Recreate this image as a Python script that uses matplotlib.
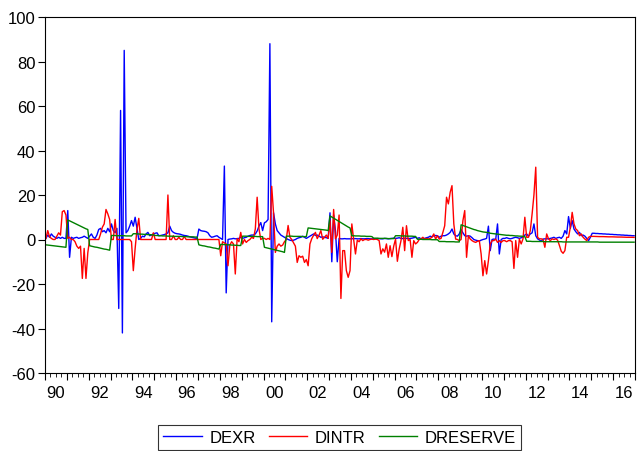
import numpy as np
import matplotlib
matplotlib.use("Agg")
import matplotlib.pyplot as plt

# monthly observations, 1990M01 - 2016M12 (one row per year)
start_year = 1990
end_year = 2016

dexr = [
    0.5, 2.0, 1.0, 2.5, 1.5, 1.0, 0.5, 1.0, 0.5, 1.0, 0.5, 0.5,
    13.0, -8.0, 1.0, 0.5, 0.8, 1.0, 0.5, 0.8, 1.0, 1.5, 1.0, 0.5,
    1.5, 2.5, 1.0, 0.5, 2.0, 4.5, 5.0, 3.5, 4.0, 3.0, 5.0, 3.5,
    7.0, 4.0, 3.0, 5.0, -31.0, 58.0, -42.0, 85.0, 3.0, 4.0, 6.0, 8.5,
    6.0, 10.0, 5.0, 0.0, 0.5, 1.5, 1.2, 2.5, 3.2, 1.7, 2.0, 2.5,
    2.8, 3.0, 1.7, 1.8, 2.0, 2.2, 2.5, 3.0, 6.0, 4.0, 3.2, 2.8,
    2.6, 2.5, 2.3, 2.0, 1.8, 1.7, 1.5, 1.2, 1.0, 0.8, 0.6, 0.5,
    4.7, 4.0, 3.8, 3.7, 3.5, 3.0, 1.7, 1.0, 1.2, 1.5, 1.7, 1.0,
    0.5, 0.0, 33.0, -24.0, 0.0, 0.2, 0.3, 0.5, 0.3, 0.4, 0.5, 1.0,
    0.5, 0.8, 1.0, 1.5, 1.8, 2.0, 2.0, 2.5, 3.8, 6.0, 7.6, 4.0,
    7.5, 8.0, 9.0, 88.0, -37.0, 12.0, 7.0, 4.0, 3.0, 2.0, 1.5, 1.0,
    0.5, 0.0, -0.3, -0.5, -0.3, 0.0, 0.5, 0.8, 1.0, 1.5, 1.0, 0.5,
    1.0, 1.5, 2.0, 2.5, 1.8, 2.0, 1.5, 1.0, 1.2, 1.0, 0.8, 0.5,
    12.0, -10.0, 11.0, 4.0, -10.0, 0.5, 0.3, 0.3, 0.4, 0.3, 0.3, 0.3,
    0.3, 0.4, 0.4, 0.3, 0.3, 0.4, 0.3, 0.3, 0.4, 0.4, 0.3, 0.3,
    0.3, 0.3, 0.4, 0.4, 0.3, 0.3, 0.5, 0.4, 0.3, 0.4, 0.5, 0.6,
    0.5, 0.6, 0.8, 0.5, 0.4, 0.6, 0.5, 0.4, 0.5, 0.6, 0.8, 1.0,
    0.5, 0.8, 0.3, 0.2, 0.5, 0.8, 1.0, 1.5, 1.2, 1.7, 1.8, 1.7,
    1.0, 1.5, 1.7, 1.7, 2.0, 2.5, 3.2, 4.7, 2.5, 1.7, 1.5, 2.5,
    4.5, 3.0, 1.7, 1.5, 1.7, 1.5, 0.8, 0.0, -0.3, -0.5, -0.7, -0.3,
    0.0, 0.2, 0.5, 6.0, -5.0, 0.0, 0.2, 0.0, 7.0, -6.5, 0.0, 0.5,
    0.5, 0.8, 0.5, 0.3, 0.5, 0.8, 1.0, 0.8, 0.5, 0.8, 1.0, 2.0,
    2.5, 1.5, 2.5, 3.0, 7.0, 1.7, 0.3, -0.2, -0.8, 0.2, 0.3, 0.3,
    0.3, 0.5, 0.7, 1.0, 0.5, 0.8, 1.0, 0.5, 1.5, 4.0, 2.5, 10.3,
    5.0, 8.5, 4.7, 3.5, 2.5, 3.2, 1.7, 2.0, 1.5, 0.5, -0.5, 1.0,
    2.8, 2.8, 2.7, 2.7, 2.6, 2.6, 2.5, 2.5, 2.4, 2.4, 2.3, 2.3,
    2.2, 2.2, 2.1, 2.1, 2.0, 2.0, 1.9, 1.9, 1.8, 1.8, 1.7, 1.7,
]

dintr = [
    0.5, 4.0, 1.2, 0.5, 0.0, 0.0, 1.5, 3.0, 2.0, 12.5, 13.0, 11.0,
    0.5, 1.0, 0.0, 0.0, -1.0, -3.0, -4.0, -3.0, -17.5, -4.0, -17.5, -6.0,
    0.0, 0.0, 0.0, 0.0, 0.0, 0.0, 2.5, 5.5, 7.0, 13.5, 11.5, 9.0,
    0.0, 0.0, 9.0, 0.0, 0.0, 0.0, 0.0, 0.0, 0.0, 0.0, 0.0, -1.0,
    -14.0, -4.0, 4.5, 9.5, 0.0, 0.0, 0.0, 0.0, 0.0, 0.0, 0.0, 3.0,
    0.0, 0.0, 0.0, 0.0, 0.0, 0.0, 0.0, 20.0, 0.0, 0.0, 1.7, 0.0,
    0.0, 1.0, 0.0, 0.0, 1.3, 0.0, 0.0, 0.0, 0.0, 0.0, 0.0, 0.0,
    0.0, 0.0, 0.0, 0.0, 0.0, 0.0, 0.0, 0.0, 0.0, 0.0, 0.0, 0.0,
    -7.3, -1.0, -1.5, -2.0, -11.8, -2.5, -1.0, -2.0, -15.5, 0.4, -1.0, 3.2,
    -2.0, 0.0, -1.3, -0.5, 0.0, 1.0, 0.5, 4.8, 19.0, 4.8, 0.0, 0.5,
    0.5, 0.0, 0.5, 0.0, 23.9, 12.0, -5.8, -3.0, -2.0, -3.0, -2.5, -1.0,
    0.0, 6.3, 1.0, 0.0, -1.5, -3.0, -10.3, -7.3, -8.0, -7.5, -10.3, -9.0,
    -11.8, -2.0, 0.4, 1.9, 3.2, 0.4, 2.0, 4.0, 0.1, 1.0, 2.0, 0.5,
    8.5, -5.8, 13.5, 0.3, 2.0, 11.0, -26.5, -5.0, -5.0, -14.0, -17.0, -14.0,
    7.0, 0.0, -6.5, -0.3, -1.0, 0.3, -0.5, 0.0, 0.0, -0.3, 0.0, 0.2,
    0.0, 0.2, 0.0, -0.5, -6.5, -4.2, -5.7, -2.0, -8.0, -2.8, -7.7, -3.0,
    0.2, -9.8, -4.3, -0.5, 5.5, -5.0, 6.2, -0.5, 0.0, -8.0, -0.5, -2.0,
    -1.3, 0.0, 0.3, 1.0, 0.2, 0.5, 0.2, 0.5, 1.0, 2.5, 0.2, 1.7,
    0.2, 0.5, 3.2, 6.2, 19.0, 16.0, 21.2, 24.2, 7.0, 0.2, 0.0, -0.5,
    0.0, 8.5, 13.0, -8.0, 1.7, 0.2, -0.5, -1.0, -1.3, -0.8, -0.5, -6.5,
    -16.3, -9.5, -15.5, -9.5, -2.0, -0.5, -0.5, 0.2, -1.3, -0.5, -1.3, -0.5,
    -0.5, -1.0, -0.5, -0.5, -1.0, -13.0, -0.5, -8.0, 0.2, -2.0, 0.3, 10.0,
    1.0, 1.0, 4.0, 11.5, 20.0, 32.5, 1.0, 0.3, 0.3, 0.0, -3.5, 2.5,
    0.3, -0.5, 0.3, 0.0, 0.3, -0.3, -2.7, -5.3, -6.2, -5.0, 1.0, 1.0,
    5.5, 12.2, 7.0, 4.7, 4.0, 1.7, 2.5, 1.0, 0.2, -0.5, 1.0, 1.4,
    1.4, 1.4, 1.35, 1.35, 1.3, 1.3, 1.3, 1.25, 1.25, 1.2, 1.2, 1.2,
    1.15, 1.15, 1.1, 1.1, 1.1, 1.05, 1.05, 1.0, 1.0, 1.0, 0.95, 0.95,
]

dreserve = [
    -2.4, -2.5, -2.6, -2.7, -2.8, -2.9, -3.0, -3.1, -3.2, -3.3, -3.4, -3.5,
    8.8, 8.4, 8.0, 7.6, 7.2, 6.8, 6.4, 6.0, 5.6, 5.2, 4.8, 4.5,
    -2.8, -3.0, -3.2, -3.4, -3.5, -3.7, -3.9, -4.1, -4.3, -4.4, -4.6, -4.8,
    1.8, 1.8, 1.8, 1.7, 1.7, 1.7, 1.7, 1.7, 1.6, 1.6, 1.6, 1.6,
    2.6, 2.6, 2.5, 2.5, 2.4, 2.4, 2.3, 2.3, 2.2, 2.2, 2.1, 2.1,
    1.8, 1.8, 1.7, 1.7, 1.6, 1.6, 1.6, 1.5, 1.5, 1.5, 1.4, 1.4,
    1.4, 1.4, 1.4, 1.3, 1.3, 1.3, 1.2, 1.2, 1.2, 1.2, 1.1, 1.1,
    -2.4, -2.6, -2.8, -2.9, -3.1, -3.3, -3.4, -3.6, -3.8, -3.9, -4.1, -4.3,
    -2.2, -2.2, -2.3, -2.3, -2.4, -2.4, -2.5, -2.5, -2.6, -2.6, -2.7, -2.7,
    1.5, 1.5, 1.5, 1.4, 1.4, 1.4, 1.4, 1.4, 1.3, 1.3, 1.3, 1.3,
    -3.5, -3.7, -3.9, -4.1, -4.3, -4.5, -4.7, -4.9, -5.1, -5.3, -5.5, -5.8,
    1.5, 1.5, 1.5, 1.5, 1.4, 1.4, 1.4, 1.4, 1.4, 1.3, 1.3, 1.3,
    5.2, 5.1, 5.0, 4.9, 4.8, 4.7, 4.6, 4.5, 4.4, 4.3, 4.2, 4.0,
    10.6, 10.1, 9.6, 9.1, 8.6, 8.1, 7.6, 7.1, 6.6, 6.1, 5.6, 5.2,
    1.7, 1.7, 1.6, 1.6, 1.6, 1.5, 1.5, 1.5, 1.4, 1.4, 1.4, 1.3,
    0.6, 0.6, 0.6, 0.5, 0.5, 0.5, 0.5, 0.5, 0.4, 0.4, 0.4, 0.4,
    1.7, 1.7, 1.7, 1.6, 1.6, 1.6, 1.5, 1.5, 1.5, 1.5, 1.4, 1.4,
    0.1, 0.1, 0.1, 0.0, 0.0, 0.0, 0.0, 0.0, -0.1, -0.1, -0.1, -0.1,
    -0.9, -0.9, -0.9, -0.9, -1.0, -1.0, -1.0, -1.0, -1.0, -1.1, -1.1, -1.1,
    6.6, 6.3, 6.0, 5.7, 5.4, 5.1, 4.8, 4.5, 4.3, 4.0, 3.8, 3.6,
    3.4, 3.3, 3.2, 3.1, 2.8, 2.7, 2.6, 2.5, 2.4, 2.3, 2.2, 2.1,
    2.0, 1.9, 1.9, 1.8, 1.8, 1.7, 1.6, 1.6, 1.5, 1.5, 1.4, 1.3,
    -0.8, -0.8, -0.8, -0.9, -0.9, -0.9, -0.9, -0.9, -0.9, -0.9, -1.0, -1.0,
    -1.0, -1.0, -1.0, -1.0, -1.0, -1.0, -1.0, -1.0, -1.1, -1.1, -1.1, -1.1,
    -1.1, -1.1, -1.1, -1.1, -1.1, -1.1, -1.1, -1.1, -1.1, -1.1, -1.1, -1.1,
    -1.1, -1.1, -1.1, -1.1, -1.2, -1.2, -1.2, -1.2, -1.2, -1.2, -1.2, -1.2,
    -1.2, -1.2, -1.2, -1.2, -1.2, -1.2, -1.2, -1.2, -1.2, -1.2, -1.2, -1.2,
]

series_names = ["DEXR", "DINTR", "DRESERVE"]
series_colors = ["#0000FF", "#FF0000", "#008000"]
y_ticks = [-60, -40, -20, 0, 20, 40, 60, 80, 100]

plt.rcParams["font.family"] = ["Liberation Sans", "DejaVu Sans"]

n = len(dexr)
t = start_year + (np.arange(n) + 0.5) / 12.0

fig = plt.figure(figsize=(6.37, 4.52), dpi=100)
ax = fig.add_axes([45 / 637, 78 / 452, 590 / 637, 356 / 452])

for vals, name, col in zip([dexr, dintr, dreserve], series_names,
                           series_colors):
    ax.plot(t, vals, color=col, lw=1.0, label=name)

ax.set_xlim(start_year, end_year + 1)
ax.set_ylim(-60, 100)
ax.set_yticks(y_ticks)
ax.set_yticklabels([str(v) for v in y_ticks], fontsize=12)
ax.tick_params(axis="y", direction="out", length=5, width=0.8, pad=2)

# year ticks (major) and quarter ticks (minor), labels centred on years
years = np.arange(start_year, end_year + 2)
ax.set_xticks(years)
ax.set_xticklabels([])
ax.set_xticks(np.arange(start_year, end_year + 1, 0.25), minor=True)
ax.tick_params(axis="x", which="major", direction="out", length=5,
               width=0.8)
ax.tick_params(axis="x", which="minor", direction="out", length=3,
               width=0.6)
for yr in range(start_year, end_year + 1, 2):
    ax.text(yr + 0.5, -0.035, f"{yr % 100:02d}", fontsize=12,
            ha="center", va="top", transform=ax.get_xaxis_transform())

for sp in ax.spines.values():
    sp.set_linewidth(0.8)

leg = fig.legend(loc="upper center", bbox_to_anchor=(0.533, 0.058),
                 ncol=3, fontsize=12, frameon=True, fancybox=False,
                 edgecolor="black", handlelength=2.3, columnspacing=0.8,
                 handletextpad=0.45, borderpad=0.3, borderaxespad=0.0)
leg.get_frame().set_linewidth(0.8)

fig.savefig("out.png", dpi=100)
